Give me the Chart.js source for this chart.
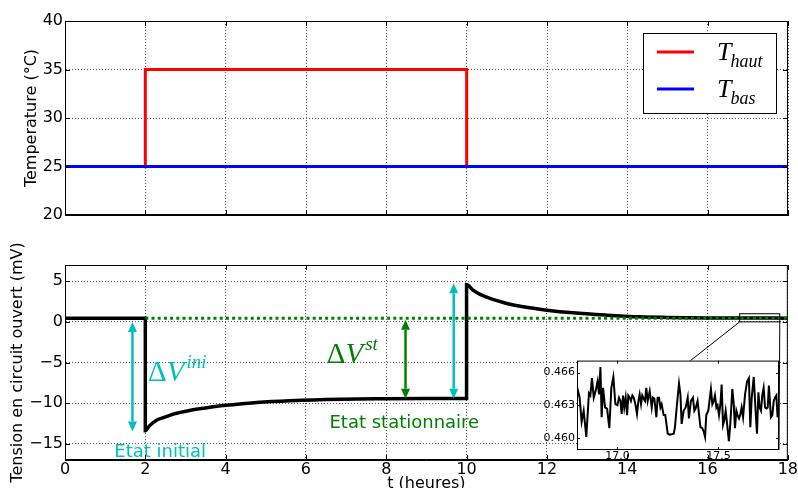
<!DOCTYPE html>
<html lang="fr">
<head>
<meta charset="UTF-8">
<title>Temperature et tension en circuit ouvert</title>
<script src="https://cdn.jsdelivr.net/npm/chart.js"></script>
<style>
  body { margin: 0; background: #fff; overflow: hidden; }
  #page { position: relative; width: 798px; height: 488px; }
  canvas { position: absolute; }
</style>
</head>
<body>
<div id="page">
  <canvas id="tempChart" width="798" height="240" style="left:0;top:0"></canvas>
  <canvas id="voltChart" width="798" height="256" style="left:0;top:240px"></canvas>
  <canvas id="zoomChart" width="254" height="116" style="left:530px;top:352px"></canvas>
</div>
<script>
// --- donnees ---
const tempTime = [0, 2, 2, 10, 10, 18];
const tHaut = [25, 25, 35, 35, 25, 25];
const tBas = [25, 25, 25, 25, 25, 25];
const tempLabels = ['haut', 'bas'];
const tempTicks = [20, 25, 30, 35, 40];

const voltTime = [0, 2, 2, 2.1, 2.28, 2.5, 2.7, 3.1, 3.5, 3.94, 4.4, 4.77, 5.6, 6.85, 8, 9, 10,
                  10, 10.16, 10.35, 10.58, 10.8, 11, 11.41, 12, 12.65, 13.48, 14.31, 15, 16, 17, 18];
const voltV = [0.46, 0.46, -13.4, -12.8, -12.1, -11.7, -11.35, -10.9, -10.6, -10.3, -10.08, -9.92, -9.7, -9.52, -9.46, -9.43, -9.42,
               4.6, 3.9, 3.35, 2.9, 2.55, 2.27, 1.85, 1.44, 1.11, 0.83, 0.62, 0.55, 0.49, 0.47, 0.46];
const refTime = [2, 18];
const refV = [0.46, 0.46];
const voltTicks = [-15, -10, -5, 0, 5];
const hourTicks = [0, 2, 4, 6, 8, 10, 12, 14, 16, 18];

const insetT = [16.800,16.813,16.823,16.833,16.846,16.859,16.866,16.874,16.883,16.892,
  16.902,16.909,16.916,16.922,16.929,16.939,16.949,16.960,16.970,16.980,
  16.990,17.000,17.008,17.015,17.021,17.028,17.034,17.041,17.048,17.054,
  17.061,17.067,17.074,17.081,17.089,17.097,17.104,17.110,17.117,17.123,
  17.130,17.137,17.143,17.150,17.160,17.170,17.176,17.183,17.193,17.199,
  17.206,17.213,17.219,17.229,17.237,17.249,17.259,17.279,17.285,17.295,
  17.305,17.312,17.318,17.328,17.338,17.348,17.354,17.364,17.374,17.381,
  17.387,17.397,17.404,17.411,17.420,17.427,17.434,17.440,17.450,17.457,
  17.463,17.470,17.477,17.483,17.490,17.496,17.503,17.510,17.516,17.523,
  17.529,17.536,17.543,17.552,17.559,17.569,17.576,17.582,17.589,17.595,
  17.602,17.609,17.615,17.622,17.632,17.642,17.651,17.658,17.665,17.675,
  17.684,17.691,17.698,17.704,17.711,17.717,17.724,17.731,17.738,17.744,
  17.750,17.760,17.767,17.774,17.780,17.787,17.793,17.800];
const insetV = [0.4647,0.4637,0.4615,0.4625,0.4601,0.4641,0.4639,0.4655,0.4637,0.4643,
  0.4652,0.4640,0.4665,0.4619,0.4646,0.4628,0.4627,0.4609,0.4646,0.4656,
  0.4631,0.4630,0.4637,0.4634,0.4622,0.4639,0.4628,0.4637,0.4621,0.4639,
  0.4637,0.4634,0.4639,0.4637,0.4631,0.4622,0.4634,0.4640,0.4631,0.4639,
  0.4636,0.4634,0.4646,0.4634,0.4643,0.4628,0.4637,0.4636,0.4619,0.4637,
  0.4637,0.4628,0.4631,0.4621,0.4621,0.4604,0.4603,0.4604,0.4610,0.4631,
  0.4650,0.4640,0.4613,0.4625,0.4628,0.4637,0.4618,0.4634,0.4637,0.4625,
  0.4627,0.4634,0.4622,0.4610,0.4609,0.4606,0.4601,0.4621,0.4625,0.4636,
  0.4645,0.4631,0.4634,0.4639,0.4628,0.4630,0.4621,0.4631,0.4649,0.4612,
  0.4616,0.4625,0.4613,0.4597,0.4613,0.4645,0.4631,0.4609,0.4625,0.4621,
  0.4618,0.4622,0.4628,0.4619,0.4640,0.4652,0.4655,0.4610,0.4637,0.4656,
  0.4625,0.4604,0.4642,0.4628,0.4625,0.4639,0.4646,0.4628,0.4627,0.4628,
  0.4648,0.4619,0.4621,0.4634,0.4637,0.4639,0.4619,0.4628];
const insetYTicks = [0.460, 0.463, 0.466];
const insetXTicks = [17.0, 17.5];

Chart.defaults.font.family = '"DejaVu Sans", sans-serif';
Chart.defaults.color = '#000';
Chart.defaults.animation = false;

const CYAN = '#00bfbf';
const GREEN = '#008000';

function pts(xs, ys) {
  return xs.map((x, i) => ({ x: x, y: ys[i] }));
}

function minus(v) {
  return v < 0 ? '\u2212' + Math.abs(v) : String(v);
}

// cadre noir + petits traits de graduation vers l'interieur (style matplotlib)
const framePlugin = {
  id: 'frame',
  afterDraw(chart, args, opts) {
    const a = chart.chartArea, c = chart.ctx;
    const tick = opts.tick || 5;
    c.save();
    c.strokeStyle = '#000';
    c.lineWidth = 1;
    c.strokeRect(a.left + 0.5, a.top + 0.5, a.right - a.left - 1, a.bottom - a.top - 1);
    c.beginPath();
    chart.scales.x.ticks.forEach(t => {
      const px = Math.round(chart.scales.x.getPixelForValue(t.value)) + 0.5;
      c.moveTo(px, a.top); c.lineTo(px, a.top + tick);
      c.moveTo(px, a.bottom); c.lineTo(px, a.bottom - tick);
    });
    chart.scales.y.ticks.forEach(t => {
      const py = Math.round(chart.scales.y.getPixelForValue(t.value)) + 0.5;
      c.moveTo(a.left, py); c.lineTo(a.left + tick, py);
      c.moveTo(a.right, py); c.lineTo(a.right - tick, py);
    });
    c.stroke();
    c.restore();
  }
};

const gridStyle = { color: '#555', lineWidth: 1, drawTicks: false };
const borderStyle = { display: true, color: '#000', dash: [1, 2] };

// legende avec indices (T_haut, T_bas)
const legendPlugin = {
  id: 'mathLegend',
  afterDraw(chart) {
    const c = chart.ctx;
    c.save();
    c.fillStyle = '#fff';
    c.fillRect(643, 33, 133, 80);
    c.strokeStyle = '#000';
    c.lineWidth = 1;
    c.strokeRect(643.5, 33.5, 133, 80);
    chart.data.datasets.forEach((ds, i) => {
      const y = 52 + i * 37;
      c.strokeStyle = ds.borderColor;
      c.lineWidth = 3;
      c.beginPath(); c.moveTo(657, y); c.lineTo(694, y); c.stroke();
      c.fillStyle = '#000';
      c.textBaseline = 'alphabetic';
      c.font = 'italic 26px "Liberation Serif", serif';
      c.fillText('T', 717, y + 8);
      const w = c.measureText('T').width;
      c.font = 'italic 18px "Liberation Serif", serif';
      c.fillText(ds.label, 717 + w - 1, y + 15);
    });
    c.restore();
  }
};

function arrow(c, x, y1, y2, color) {
  const head = 10, half = 4.5;
  const dir = y2 > y1 ? 1 : -1;
  c.strokeStyle = color; c.fillStyle = color; c.lineWidth = 2.5;
  c.beginPath(); c.moveTo(x, y1 + dir * head); c.lineTo(x, y2 - dir * head); c.stroke();
  c.beginPath(); c.moveTo(x, y1); c.lineTo(x - half, y1 + dir * head); c.lineTo(x + half, y1 + dir * head); c.closePath(); c.fill();
  c.beginPath(); c.moveTo(x, y2); c.lineTo(x - half, y2 - dir * head); c.lineTo(x + half, y2 - dir * head); c.closePath(); c.fill();
}

function deltaV(c, x, y, sup, color) {
  c.fillStyle = color;
  c.textBaseline = 'alphabetic';
  c.textAlign = 'left';
  c.font = '29px "Liberation Serif", serif';
  c.fillText('\u0394', x, y);
  let w = c.measureText('\u0394').width;
  c.font = 'italic 29px "Liberation Serif", serif';
  c.fillText('V', x + w, y);
  w += c.measureText('V').width;
  c.font = 'italic 19px "Liberation Serif", serif';
  c.fillText(sup, x + w + 2, y - 13);
}

// fleches, textes et cadre de zoom sur le graphe de tension
const notesPlugin = {
  id: 'notes',
  afterDatasetsDraw(chart) {
    const c = chart.ctx, xs = chart.scales.x, ys = chart.scales.y;
    const X = v => xs.getPixelForValue(v), Y = v => ys.getPixelForValue(v);
    c.save();
    arrow(c, X(1.68), Y(0.0), Y(-13.5), CYAN);
    arrow(c, X(8.48), Y(0.25), Y(-9.45), GREEN);
    arrow(c, X(9.68), Y(4.75), Y(-9.45), CYAN);
    deltaV(c, X(2.07), Y(-7.25), 'ini', CYAN);
    deltaV(c, X(6.52), Y(-5.1), 'st', GREEN);
    c.font = '18px "DejaVu Sans", sans-serif';
    c.textAlign = 'center';
    c.textBaseline = 'middle';
    c.fillStyle = CYAN;
    c.fillText('Etat initial', X(2.37), Y(-16.0));
    c.fillStyle = GREEN;
    c.fillText('Etat stationnaire', X(8.45), Y(-12.45));
    // rectangle de zoom et lignes vers l'encart (coins bas de l'encart)
    c.strokeStyle = '#000';
    c.lineWidth = 1;
    const x0 = X(insetT[0]), x1 = X(insetT[insetT.length - 1]);
    c.strokeRect(x0, Y(1.0), x1 - x0, Y(0) - Y(1.0));
    c.beginPath();
    c.moveTo(x0, Y(0)); c.lineTo(577, 210);
    c.moveTo(x1, Y(0)); c.lineTo(779, 210);
    c.stroke();
    c.restore();
  }
};

const whiteArea = {
  id: 'whiteArea',
  beforeDraw(chart) {
    const a = chart.chartArea, c = chart.ctx;
    c.save();
    c.fillStyle = '#fff';
    c.fillRect(a.left, a.top, a.right - a.left, a.bottom - a.top);
    c.restore();
  }
};

// --- temperature ---
new Chart(document.getElementById('tempChart'), {
  type: 'scatter',
  data: {
    datasets: [
      { label: tempLabels[0], data: pts(tempTime, tHaut), borderColor: '#ff0000', showLine: true,
        borderWidth: 3, pointRadius: 0, borderJoinStyle: 'miter', order: 2 },
      { label: tempLabels[1], data: pts(tempTime, tBas), borderColor: '#0000ff', showLine: true,
        borderWidth: 3, pointRadius: 0, order: 1 }
    ]
  },
  options: {
    responsive: false,
    layout: { padding: { top: 21, right: 10, left: 0, bottom: 0 } },
    plugins: { legend: { display: false }, tooltip: { enabled: false } },
    scales: {
      x: {
        type: 'linear', min: 0, max: 18,
        afterBuildTicks: s => { s.ticks = hourTicks.map(v => ({ value: v })); },
        afterFit: s => { s.height = 25; },
        ticks: { display: false },
        grid: gridStyle, border: borderStyle
      },
      y: {
        min: 20, max: 40,
        afterBuildTicks: s => { s.ticks = tempTicks.map(v => ({ value: v })); },
        afterFit: s => { s.width = 65; },
        ticks: { font: { size: 16 }, padding: 2 },
        grid: gridStyle, border: borderStyle,
        title: { display: true, text: 'Temperature (°C)', font: { size: 16 }, padding: { top: 22 } }
      }
    }
  },
  plugins: [legendPlugin, framePlugin]
});

// --- tension ---
new Chart(document.getElementById('voltChart'), {
  type: 'scatter',
  data: {
    datasets: [
      { label: 'reference', data: pts(refTime, refV), borderColor: GREEN, showLine: true,
        borderWidth: 3, borderDash: [3, 3.2], pointRadius: 0, order: 0 },
      { label: 'tension', data: pts(voltTime, voltV), borderColor: '#000', showLine: true,
        borderWidth: 3.5, pointRadius: 0, borderJoinStyle: 'miter', cubicInterpolationMode: 'monotone', order: 1 }
    ]
  },
  options: {
    responsive: false,
    layout: { padding: { top: 25, right: 10, left: 0, bottom: 0 } },
    plugins: { legend: { display: false }, tooltip: { enabled: false } },
    scales: {
      x: {
        type: 'linear', min: 0, max: 18,
        afterBuildTicks: s => { s.ticks = hourTicks.map(v => ({ value: v })); },
        afterFit: s => { s.height = 36; },
        ticks: { font: { size: 16 }, padding: 0 },
        grid: gridStyle, border: borderStyle,
        title: { display: true, text: 't (heures)', font: { size: 16 }, padding: { top: 0, bottom: 3 } }
      },
      y: {
        min: -17, max: 7,
        afterBuildTicks: s => { s.ticks = voltTicks.map(v => ({ value: v })); },
        afterFit: s => { s.width = 65; },
        ticks: { font: { size: 16 }, padding: 2, callback: v => minus(v) },
        grid: gridStyle, border: borderStyle,
        title: { display: true, text: 'Tension en circuit ouvert (mV)', font: { size: 16 }, padding: { top: 8 } }
      }
    }
  },
  plugins: [notesPlugin, framePlugin]
});

// --- encart (zoom 16.8 - 17.8 h) ---
new Chart(document.getElementById('zoomChart'), {
  type: 'scatter',
  data: {
    datasets: [
      { label: 'zoom', data: pts(insetT, insetV), borderColor: '#000', showLine: true,
        borderWidth: 2, pointRadius: 0 }
    ]
  },
  options: {
    responsive: false,
    layout: { padding: { top: 7, right: 5, left: 0, bottom: 0 } },
    plugins: { legend: { display: false }, tooltip: { enabled: false }, frame: { tick: 3 } },
    scales: {
      x: {
        type: 'linear', min: 16.8, max: 17.8,
        afterBuildTicks: s => { s.ticks = insetXTicks.map(v => ({ value: v })); },
        afterFit: s => { s.height = 18; },
        ticks: { font: { size: 11 }, padding: 0, callback: v => v.toFixed(1) },
        grid: { display: false, drawTicks: false }, border: { display: false }
      },
      y: {
        min: 0.4589, max: 0.4671,
        afterBuildTicks: s => { s.ticks = insetYTicks.map(v => ({ value: v })); },
        afterFit: s => { s.width = 47; },
        ticks: { font: { size: 11 }, padding: 2, callback: v => v.toFixed(3) },
        grid: { display: false, drawTicks: false }, border: { display: false }
      }
    }
  },
  plugins: [whiteArea, framePlugin]
});
</script>
</body>
</html>
